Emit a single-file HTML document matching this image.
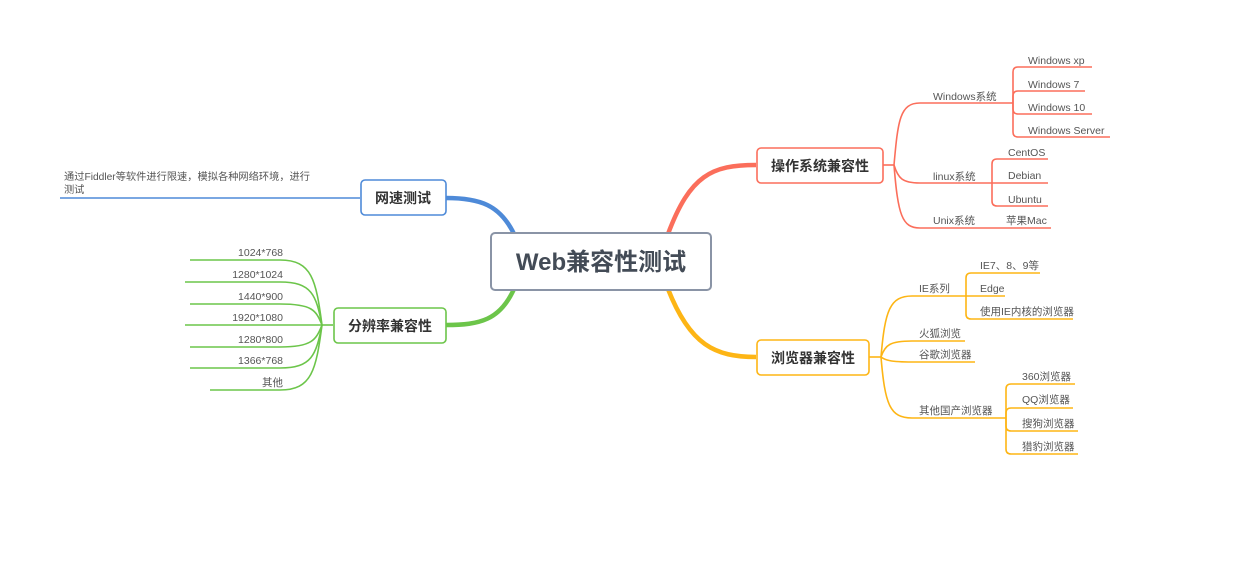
<!DOCTYPE html>
<html><head><meta charset="utf-8"><style>
html,body{margin:0;padding:0;background:#fff;}
svg{display:block;font-family:"Liberation Sans","Noto Sans CJK SC",sans-serif;}
.t{font-size:10.5px;fill:#555;}
.b{font-size:14px;font-weight:bold;fill:#333;}
</style></head><body>
<svg width="1240" height="575" viewBox="0 0 1240 575" xmlns="http://www.w3.org/2000/svg">
<rect width="1240" height="575" fill="#fff"/>
<path d="M668,234 C690,175 712,165 756,165" stroke="#fb6e5b" stroke-width="4.5" fill="none"/>
<path d="M668,289 C690,345 715,357 756,357" stroke="#fdb515" stroke-width="4.5" fill="none"/>
<path d="M514,234 C500,205 480,198 446,198" stroke="#4e8ad8" stroke-width="4.5" fill="none"/>
<path d="M514,289 C500,320 480,325 446,325" stroke="#6cc54a" stroke-width="4.5" fill="none"/>

<g stroke="#fb6e5b" stroke-width="1.6" fill="none">
<path d="M883,165 L894,165"/>
<path d="M894,165 C898,120 900,103 920,103 L1013,103"/>
<path d="M894,165 C898,178 902,183 920,183 L992,183"/>
<path d="M894,165 C898,215 902,228 920,228 L1051,228"/>
<path d="M1013,103 L1013,72 Q1013,67 1018,67 L1092,67"/>
<path d="M1013,103 L1013,96 Q1013,91 1018,91 L1085,91"/>
<path d="M1013,103 L1013,109 Q1013,114 1018,114 L1092,114"/>
<path d="M1013,103 L1013,132 Q1013,137 1018,137 L1110,137"/>
<path d="M992,183 L992,164 Q992,159 997,159 L1048,159"/>
<path d="M992,183 L1048,183"/>
<path d="M992,183 L992,201 Q992,206 997,206 L1048,206"/>
</g>
<rect x="757" y="148" width="126" height="35" rx="4" fill="#fff" stroke="#fb6e5b" stroke-width="1.6"/>
<text class="b" x="820" y="171" text-anchor="middle">操作系统兼容性</text>
<text class="t" x="933" y="100">Windows系统</text>
<text class="t" x="933" y="180">linux系统</text>
<text class="t" x="933" y="224">Unix系统</text>
<text class="t" x="1028" y="64">Windows xp</text>
<text class="t" x="1028" y="88">Windows 7</text>
<text class="t" x="1028" y="111">Windows 10</text>
<text class="t" x="1028" y="134">Windows Server</text>
<text class="t" x="1008" y="156">CentOS</text>
<text class="t" x="1008" y="179">Debian</text>
<text class="t" x="1008" y="203">Ubuntu</text>
<text class="t" x="1006" y="224">苹果Mac</text>

<g stroke="#fdb515" stroke-width="1.6" fill="none">
<path d="M869,357 L881,357"/>
<path d="M881,357 C885,310 890,296 912,296 L966,296"/>
<path d="M881,357 C885,345 890,341 912,341 L965,341"/>
<path d="M881,357 C885,360 890,362 912,362 L975,362"/>
<path d="M881,357 C885,405 890,418 912,418 L1006,418"/>
<path d="M966,296 L966,278 Q966,273 971,273 L1040,273"/>
<path d="M966,296 L1005,296"/>
<path d="M966,296 L966,314 Q966,319 971,319 L1073,319"/>
<path d="M1006,418 L1006,389 Q1006,384 1011,384 L1075,384"/>
<path d="M1006,418 L1006,413 Q1006,408 1011,408 L1073,408"/>
<path d="M1006,418 L1006,426 Q1006,431 1011,431 L1078,431"/>
<path d="M1006,418 L1006,449 Q1006,454 1011,454 L1078,454"/>
</g>
<rect x="757" y="340" width="112" height="35" rx="4" fill="#fff" stroke="#fdb515" stroke-width="1.6"/>
<text class="b" x="813" y="363" text-anchor="middle">浏览器兼容性</text>
<text class="t" x="919" y="292">IE系列</text>
<text class="t" x="919" y="337">火狐浏览</text>
<text class="t" x="919" y="358">谷歌浏览器</text>
<text class="t" x="919" y="414">其他国产浏览器</text>
<text class="t" x="980" y="269">IE7、8、9等</text>
<text class="t" x="980" y="292">Edge</text>
<text class="t" x="980" y="315">使用IE内核的浏览器</text>
<text class="t" x="1022" y="380">360浏览器</text>
<text class="t" x="1022" y="403">QQ浏览器</text>
<text class="t" x="1022" y="427">搜狗浏览器</text>
<text class="t" x="1022" y="450">猎豹浏览器</text>

<path d="M360,198 L60,198" stroke="#4e8ad8" stroke-width="1.6" fill="none"/>
<rect x="361" y="180" width="85" height="35" rx="4" fill="#fff" stroke="#4e8ad8" stroke-width="1.6"/>
<text class="b" x="403" y="203" text-anchor="middle">网速测试</text>
<text class="t" x="64" y="180" style="font-size:10.2px" textLength="246" lengthAdjust="spacingAndGlyphs">通过Fiddler等软件进行限速，模拟各种网络环境，进行</text>
<text class="t" x="64" y="193" style="font-size:10.2px">测试</text>

<g stroke="#6cc54a" stroke-width="1.6" fill="none">
<path d="M333,325 L322,325"/>
<path d="M322,325 C316,280 312,260 280,260 L190,260"/>
<path d="M322,325 C316,295 312,282 280,282 L185,282"/>
<path d="M322,325 C316,310 312,304 280,304 L190,304"/>
<path d="M322,325 L185,325"/>
<path d="M322,325 C316,340 312,347 280,347 L190,347"/>
<path d="M322,325 C316,355 312,368 280,368 L190,368"/>
<path d="M322,325 C316,370 312,390 280,390 L210,390"/>
</g>
<rect x="334" y="308" width="112" height="35" rx="4" fill="#fff" stroke="#6cc54a" stroke-width="1.6"/>
<text class="b" x="390" y="331" text-anchor="middle">分辨率兼容性</text>
<g class="t" text-anchor="end">
<text x="283" y="256">1024*768</text>
<text x="283" y="278">1280*1024</text>
<text x="283" y="300">1440*900</text>
<text x="283" y="321">1920*1080</text>
<text x="283" y="343">1280*800</text>
<text x="283" y="364">1366*768</text>
<text x="283" y="386">其他</text>
</g>

<rect x="491" y="233" width="220" height="57" rx="4" fill="#fff" stroke="#8a94a6" stroke-width="2"/>
<text x="601" y="270" text-anchor="middle" style="font-size:24px;font-weight:bold;fill:#434b56;">Web兼容性测试</text>
</svg>
</body></html>
